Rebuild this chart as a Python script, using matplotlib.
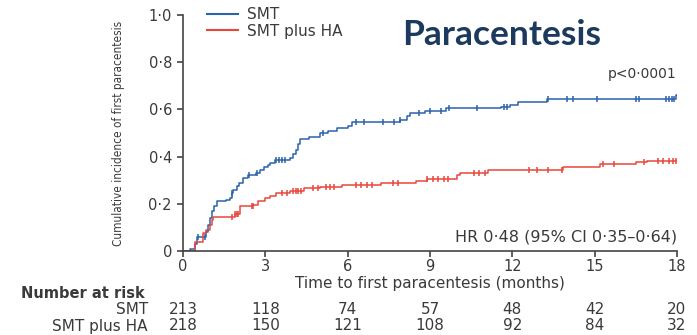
import numpy as np
import matplotlib.pyplot as plt
from matplotlib.lines import Line2D
from matplotlib import transforms

# Kaplan-Meier style cumulative incidence (step data, months / fraction)
smt_t = [0, 0.25, 0.45, 0.5, 0.85, 0.92, 0.98, 1.04, 1.12, 1.23, 1.55, 1.71, 1.78, 1.83, 1.96,
         2.05, 2.2, 2.38, 2.65, 2.8, 2.95, 3.1, 3.17, 3.35, 3.9, 4.0, 4.1, 4.2, 4.25, 4.6, 5.0,
         5.3, 5.6, 6.0, 6.16, 7.9, 8.15, 8.27, 8.8, 9.6, 11.6, 11.9, 12.2, 13.25, 17.95, 18]
smt_v = [0, 0.01, 0.03, 0.06, 0.08, 0.11, 0.14, 0.17, 0.19, 0.21, 0.215, 0.225, 0.245, 0.26, 0.275,
         0.29, 0.31, 0.32, 0.33, 0.345, 0.355, 0.365, 0.375, 0.385, 0.395, 0.41, 0.43, 0.455, 0.475, 0.485, 0.50,
         0.51, 0.52, 0.53, 0.547, 0.555, 0.57, 0.586, 0.595, 0.605, 0.61, 0.62, 0.633, 0.642, 0.66, 0.66]

ha_t = [0, 0.44, 0.74, 0.85, 0.98, 1.05, 1.1, 1.9, 2.08, 2.56, 2.75, 3.0, 3.17, 3.4, 3.9, 4.4,
        5.0, 5.8, 7.2, 8.5, 8.9, 10.0, 10.1, 11.1, 13.85, 15.2, 16.5, 16.9, 18]
ha_v = [0, 0.04, 0.075, 0.09, 0.11, 0.13, 0.145, 0.155, 0.19, 0.195, 0.21, 0.225, 0.235, 0.245, 0.255, 0.265,
        0.27, 0.28, 0.288, 0.295, 0.305, 0.32, 0.33, 0.345, 0.357, 0.368, 0.376, 0.383, 0.383]

# censored observations
smt_cens = [0.55, 0.8, 1.8, 2.4, 2.7, 3.4, 3.5, 3.6, 3.7, 5.1, 6.3, 6.6, 7.3, 7.7, 7.9,
            8.6, 9.0, 9.4, 9.7, 10.7, 11.7, 11.8, 13.3, 14.0, 14.2, 15.1, 16.5, 16.6,
            17.6, 17.7, 17.8, 17.9]
ha_cens = [1.8, 1.9, 1.95, 2.0, 2.5, 2.55, 3.6, 3.8, 4.0, 4.1, 4.2, 4.3, 4.75, 4.9, 5.2, 5.35, 5.5,
           6.3, 6.5, 6.7, 6.9, 7.65, 7.85, 8.9, 9.1, 9.3, 9.5, 9.65, 10.6, 10.8, 11.0,
           12.6, 12.9, 13.3, 13.8, 15.3, 15.7, 16.8, 17.3, 17.5, 17.7, 17.85, 17.95]

xticks = [0, 3, 6, 9, 12, 15, 18]
yticks = [0, 0.2, 0.4, 0.6, 0.8, 1.0]
ytick_labels = ['0', '0·2', '0·4', '0·6', '0·8', '1·0']
risk_smt = [213, 118, 74, 57, 48, 42, 20]
risk_ha = [218, 150, 121, 108, 92, 84, 32]

blue = '#2a62ad'
red = '#e8463c'
txt = '#3a3a3a'

fig = plt.figure(figsize=(6.97, 3.35), dpi=100)
ax = fig.add_axes([0.2626, 0.2507, 0.7087, 0.7045])


def step_value(t_arr, v_arr, t):
    i = np.searchsorted(t_arr, t, side='right') - 1
    return np.asarray(v_arr)[i]


ax.step(smt_t, smt_v, where='post', color=blue, lw=1.1)
ax.step(ha_t, ha_v, where='post', color=red, lw=1.1)
ax.plot(smt_cens, step_value(smt_t, smt_v, smt_cens), ls='none', marker='|',
        ms=5, mew=1.1, color=blue)
ax.plot(ha_cens, step_value(ha_t, ha_v, ha_cens), ls='none', marker='|',
        ms=5, mew=1.1, color=red)

ax.set_xlim(0, 18)
ax.set_ylim(0, 1.0)
ax.set_xticks(xticks)
ax.set_xticklabels([str(x) for x in xticks])
ax.set_yticks(yticks)
ax.set_yticklabels(ytick_labels)
for s in ['top', 'right']:
    ax.spines[s].set_visible(False)
for s in ['left', 'bottom']:
    ax.spines[s].set_color('#444444')
    ax.spines[s].set_linewidth(1.2)
ax.tick_params(direction='out', length=4, width=1.2, color='#444444',
               labelsize=10.5, labelcolor=txt)
ax.tick_params(axis='y', pad=4)
ax.tick_params(axis='x', pad=1.5)

ax.set_xlabel('Time to first paracentesis (months)', fontsize=11, color=txt, labelpad=2)
ax.set_ylabel('Cumulative incidence of first paracentesis', fontsize=8.5, color=txt,
              fontstretch='condensed', labelpad=17)

handles = [Line2D([], [], color=blue, lw=1.5), Line2D([], [], color=red, lw=1.5)]
ax.legend(handles, ['SMT', 'SMT plus HA'], loc='upper left', bbox_to_anchor=(0.297, 0.979),
          bbox_transform=fig.transFigure, frameon=False, fontsize=11, handlelength=2.0,
          handletextpad=0.6, labelspacing=0.1, labelcolor=txt, borderaxespad=0, borderpad=0)

fig.text(0.719, 0.895, 'Paracentesis', fontsize=25.5, fontweight='bold', color='#1b3a5e',
         family='Lato', ha='center', va='center')
ax.text(1.0, 0.75, 'p<0·0001', transform=ax.transAxes, ha='right', va='center',
        fontsize=10, color=txt)
ax.text(1.0, 0.06, 'HR 0·48 (95% CI 0·35–0·64)', transform=ax.transAxes, ha='right',
        va='center', fontsize=11.5, color=txt)

# number at risk table
tr = transforms.blended_transform_factory(ax.transData, fig.transFigure)
fig.text(0.03, 1 - 294 / 335, 'Number at risk', fontsize=10.5, fontweight='bold',
         color=txt, va='center', ha='left')
fig.text(148 / 697, 1 - 310 / 335, 'SMT', fontsize=11, color=txt, va='center', ha='right')
fig.text(148 / 697, 1 - 326 / 335, 'SMT plus HA', fontsize=11, color=txt, va='center', ha='right')
for x, a, b in zip(xticks, risk_smt, risk_ha):
    ax.text(x, 1 - 310 / 335, str(a), transform=tr, ha='center', va='center',
            fontsize=11, color=txt, clip_on=False)
    ax.text(x, 1 - 326 / 335, str(b), transform=tr, ha='center', va='center',
            fontsize=11, color=txt, clip_on=False)

fig.savefig('out.png', dpi=100)
